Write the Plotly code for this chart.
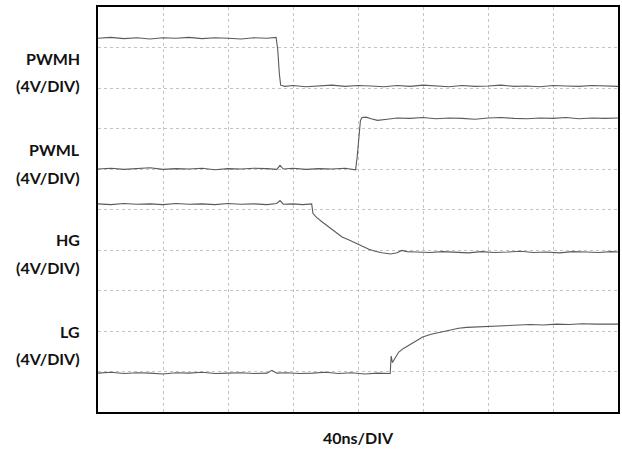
import plotly.graph_objects as go

# time in ns (40 ns/div, 8 divisions), amplitude in screen divisions (0-10)
pwmh_t = [0, 8, 16, 24, 32, 40, 48, 56, 64, 72, 80, 88, 96, 104, 109.6, 110.6, 111.6, 112.4, 115, 120,
          128, 136, 144, 152, 160, 168, 176, 184, 192, 200, 208, 216, 224, 232, 240, 248, 256, 264, 272,
          280, 288, 296, 304, 312, 320]
pwmh_v = [9.23, 9.25, 9.22, 9.24, 9.21, 9.24, 9.23, 9.25, 9.22, 9.24, 9.23, 9.21, 9.24, 9.23, 9.25, 8.95,
          8.35, 8.07, 8.04, 8.06, 8.03, 8.05, 8.07, 8.04, 8.06, 8.05, 8.03, 8.06, 8.04, 8.07, 8.05, 8.03,
          8.06, 8.04, 8.05, 8.07, 8.04, 8.05, 8.03, 8.06, 8.05, 8.04, 8.06, 8.05, 8.04]

pwml_t = [0, 8, 16, 24, 32, 40, 48, 56, 64, 72, 80, 88, 96, 104, 110, 112, 114, 120, 128, 136, 144, 152,
          158.5, 159.5, 160.5, 161.5, 162.5, 165, 168, 172, 178, 184, 192, 200, 208, 216, 224, 232, 240,
          248, 256, 264, 272, 280, 288, 296, 304, 312, 320]
pwml_v = [6.0, 6.02, 5.99, 6.01, 6.03, 5.99, 6.01, 6.0, 6.02, 5.98, 6.01, 6.0, 6.02, 6.01, 5.99, 6.09,
          6.0, 6.02, 5.99, 6.01, 6.0, 6.02, 5.98, 6.3, 6.8, 7.2, 7.27, 7.28, 7.24, 7.2, 7.23, 7.26, 7.25,
          7.27, 7.24, 7.26, 7.25, 7.23, 7.26, 7.27, 7.25, 7.24, 7.26, 7.25, 7.27, 7.24, 7.26, 7.25, 7.26]

hg_t = [0, 8, 16, 24, 32, 40, 48, 56, 64, 72, 80, 88, 96, 104, 110, 112, 114, 120, 126, 131.5, 132.3,
        134.3, 138, 142.2, 146, 150.2, 154.5, 158.8, 162.5, 166.7, 170.5, 174.7, 180.2, 184, 187, 190,
        196, 204, 212, 220, 228, 236, 244, 252, 260, 268, 276, 284, 292, 300, 308, 316, 320]
hg_v = [5.14, 5.12, 5.15, 5.13, 5.14, 5.12, 5.15, 5.13, 5.14, 5.12, 5.15, 5.13, 5.14, 5.12, 5.15, 5.22,
        5.13, 5.14, 5.12, 5.14, 4.9, 4.81, 4.69, 4.57, 4.44, 4.32, 4.25, 4.17, 4.09, 4.02, 3.97, 3.93,
        3.9, 3.93, 3.99, 3.96, 3.95, 3.94, 3.96, 3.95, 3.93, 3.96, 3.94, 3.95, 3.97, 3.94, 3.95, 3.93,
        3.96, 3.95, 3.94, 3.96, 3.95]

lg_t = [0, 8, 16, 24, 32, 40, 48, 56, 64, 72, 80, 88, 96, 104, 107, 110, 116, 124, 132, 140, 148, 156,
        164, 172, 179.8, 180.4, 181.2, 182, 185.1, 188, 191.3, 195, 199.8, 205, 211.5, 216, 221.9, 227,
        232.3, 240.3, 248, 258.7, 266, 274, 282, 290, 298, 306, 314, 320]
lg_v = [0.96, 0.98, 0.95, 0.97, 0.96, 0.94, 0.97, 0.96, 0.98, 0.95, 0.96, 0.97, 0.95, 0.96, 1.03, 0.96,
        0.97, 0.95, 0.96, 0.98, 0.95, 0.97, 0.94, 0.96, 0.95, 1.38, 1.22, 1.28, 1.48, 1.57, 1.65, 1.75,
        1.85, 1.92, 1.98, 2.03, 2.07, 2.09, 2.1, 2.12, 2.13, 2.15, 2.16, 2.15, 2.17, 2.16, 2.18, 2.17,
        2.16, 2.17]

labels = [("PWMH", 0.872), ("(4V/DIV)", 0.805),
          ("PWML", 0.647), ("(4V/DIV)", 0.580),
          ("HG", 0.425), ("(4V/DIV)", 0.358),
          ("LG", 0.198), ("(4V/DIV)", 0.133)]
xlabel = "40ns/DIV"

fig = go.Figure()
for t, v in [(pwmh_t, pwmh_v), (pwml_t, pwml_v), (hg_t, hg_v), (lg_t, lg_v)]:
    fig.add_trace(go.Scatter(x=t, y=v, mode="lines",
                             line=dict(color="#5a5a5a", width=1.1), showlegend=False,
                             hoverinfo="skip"))

axis_common = dict(showline=True, mirror=True, linecolor="black", linewidth=2,
                   showgrid=True, gridcolor="#c4c4c4", griddash="dot", gridwidth=1,
                   showticklabels=False, ticks="", zeroline=False, fixedrange=True)
fig.update_xaxes(range=[0, 320], dtick=40, tick0=0, **axis_common)
fig.update_yaxes(range=[0, 10], dtick=1, tick0=0, **axis_common)

font = dict(family="Lato, 'Open Sans', sans-serif", size=16, color="#111")
for text, y in labels:
    fig.add_annotation(text="<b>%s</b>" % text, xref="paper", yref="paper", x=-0.03, y=y,
                       xanchor="right", yanchor="middle", showarrow=False, font=font)
fig.add_annotation(text="<b>%s</b>" % xlabel, xref="paper", yref="paper", x=0.5, y=-0.064,
                   xanchor="center", yanchor="middle", showarrow=False, font=font)

fig.update_layout(width=622, height=452, margin=dict(l=98, r=2, t=7, b=40),
                  plot_bgcolor="white", paper_bgcolor="white")
fig.write_html("out.html")
